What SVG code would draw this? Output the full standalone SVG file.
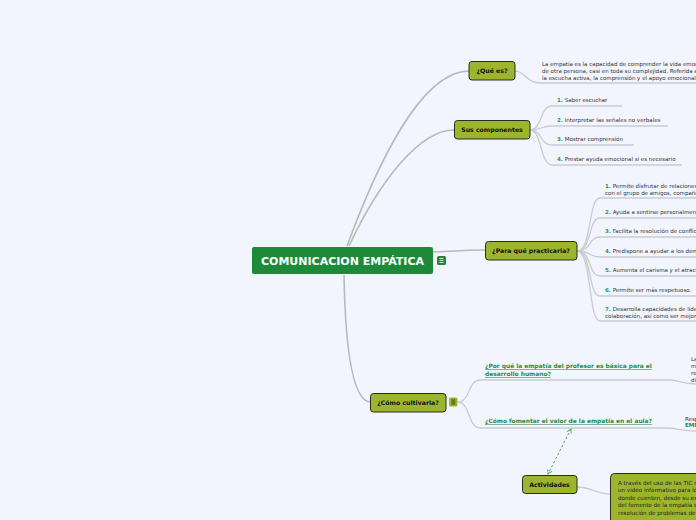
<svg xmlns="http://www.w3.org/2000/svg" width="696" height="520" viewBox="0 0 696 520">
<defs>
<style>
.bg{fill:#f2f5fd}
.ln{fill:none;stroke:#c9cbcf;stroke-width:1.3}
.lnr{fill:none;stroke:#b8b9bc;stroke-width:1.6}
.nd{fill:#9cb52c;stroke:#2b2b22;stroke-width:1}
.nt{font-family:"DejaVu Sans",Verdana,sans-serif;font-size:6.2px;font-weight:bold;fill:#111;text-anchor:middle}
.tx{font-family:"DejaVu Sans",Verdana,sans-serif;font-size:5.5px;fill:#333}
.num{fill:#2a9a4a;font-weight:bold}
.lk{font-family:"DejaVu Sans",Verdana,sans-serif;font-size:5.9px;font-weight:bold;fill:#2a8a4a;text-decoration:underline}
.bx{font-family:"DejaVu Sans",Verdana,sans-serif;font-size:5.6px;fill:#222}
</style>
<marker id="ah" viewBox="0 0 10 10" refX="8" refY="5" markerWidth="6" markerHeight="6" orient="auto-start-reverse">
<path d="M1 1 L8 5 L1 9" fill="none" stroke="#5aaa5a" stroke-width="1.5"/>
</marker>
</defs>
<rect class="bg" width="696" height="520"/>
<g id="connectors">
<path class="lnr" d="M347 246 C375 170 420 71 469 71"/>
<path class="lnr" d="M349 246 C380 180 420 130 454 130"/>
<path class="lnr" d="M433 252 C455 251 470 250 485 250"/>
<path class="lnr" d="M344 275 C345 330 350 400 370 402"/>
<path class="ln" d="M515 71 C525 71 527 83 540 83 L696 83"/>
<path class="ln" d="M530 130 C542 130 540 106 552 106 L622 106"/>
<path class="ln" d="M530 130 C542 130 540 126 552 126 L668 126"/>
<path class="ln" d="M530 130 C542 130 540 145 552 145 L634 145"/>
<path class="ln" d="M530 130 C542 130 540 165 552 165 L682 165"/>
<path class="ln" d="M577 251 C592 251 588 198 600 198 L696 198"/>
<path class="ln" d="M577 251 C592 251 588 218 600 218 L696 218"/>
<path class="ln" d="M577 251 C592 251 588 237 600 237 L696 237"/>
<path class="ln" d="M577 251 C592 251 588 257 600 257 L696 257"/>
<path class="ln" d="M577 251 C592 251 588 276 600 276 L696 276"/>
<path class="ln" d="M577 251 C592 251 588 296 600 296 L696 296"/>
<path class="ln" d="M577 251 C592 251 588 321 600 321 L696 321"/>
<path class="ln" d="M458 402 C470 402 468 380 480 380 L670 380 C680 380 680 384 696 384"/>
<path class="ln" d="M458 402 C470 402 468 428 480 428 L666 428 C678 428 680 431 696 431"/>
<path class="ln" d="M577 487 C592 487 596 494 610 494"/>
<path d="M571 429 L548 474" fill="none" stroke="#5aaa5a" stroke-width="1" stroke-dasharray="2.5,2" marker-start="url(#ah)" marker-end="url(#ah)"/>
</g>
<g id="root">
<rect x="252" y="247" width="181" height="27" rx="2" fill="#1c8a38"/>
<text x="342.5" y="264.8" font-family="DejaVu Sans,Verdana,sans-serif" font-size="11" font-weight="bold" fill="#fff" text-anchor="middle">COMUNICACION EMPÁTICA</text>
<rect x="437" y="256" width="9" height="9" rx="1.5" fill="#1c8a38"/>
<path d="M439.5 258.5h4M439.5 260.5h4M439.5 262.5h4" stroke="#fff" stroke-width="0.8"/>
</g>
<g id="que-es">
<rect class="nd" x="469" y="61.5" width="46" height="18.5" rx="3"/>
<text class="nt" x="492" y="73">¿Qué es?</text>
<text class="tx" x="542" y="66">La empatía es la capacidad de comprender la vida emocional</text>
<text class="tx" x="542" y="73">de otra persona, casi en toda su complejidad. Referida a</text>
<text class="tx" x="542" y="80">la escucha activa, la comprensión y el apoyo emocional.</text>
</g>
<g id="componentes">
<rect class="nd" x="454.5" y="120.5" width="75.5" height="18.5" rx="3"/>
<text class="nt" x="492" y="132">Sus componentes</text>
<text class="tx" x="557" y="102"><tspan class="num">1.</tspan> Saber escuchar</text>
<text class="tx" x="557" y="122"><tspan class="num">2.</tspan> Interpretar las señales no verbales</text>
<text class="tx" x="557" y="141"><tspan class="num">3.</tspan> Mostrar comprensión</text>
<text class="tx" x="557" y="161"><tspan class="num">4.</tspan> Prestar ayuda emocional si es necesario</text>
</g>
<g id="para-que">
<rect class="nd" x="485.5" y="241.5" width="91.5" height="18.5" rx="3"/>
<text class="nt" x="531" y="253">¿Para qué practicarla?</text>
<text class="tx" x="605" y="188"><tspan class="num">1.</tspan> Permite disfrutar de relaciones más satisfactorias</text>
<text class="tx" x="605" y="195">con el grupo de amigos, compañeros y familia.</text>
<text class="tx" x="605" y="214"><tspan class="num">2.</tspan> Ayuda a sentirse personalmente bien.</text>
<text class="tx" x="605" y="233"><tspan class="num">3.</tspan> Facilita la resolución de conflictos.</text>
<text class="tx" x="605" y="253"><tspan class="num">4.</tspan> Predispone a ayudar a los demás.</text>
<text class="tx" x="605" y="272"><tspan class="num">5.</tspan> Aumenta el carisma y el atractivo.</text>
<text class="tx" x="605" y="292"><tspan class="num">6.</tspan> Permite ser más respetuoso.</text>
<text class="tx" x="605" y="311"><tspan class="num">7.</tspan> Desarrolla capacidades de liderazgo, negociación y</text>
<text class="tx" x="605" y="318">colaboración, así como ser mejor valorado.</text>
</g>
<g id="como-cultivarla">
<rect class="nd" x="370.5" y="393.5" width="75.5" height="18.5" rx="3"/>
<text class="nt" x="408" y="405">¿Cómo cultivarla?</text>
<rect x="449" y="397.5" width="8.5" height="9" rx="1.5" fill="#9cb52c"/>
<path d="M451.3 400h4M451.3 402h4M451.3 404h4" stroke="#222" stroke-width="0.8"/>
</g>
<g id="por-que">
<text class="lk" x="485" y="368">¿Por qué la empatía del profesor es básica para el</text>
<text class="lk" x="485" y="376">desarrollo humano?</text>
<text class="tx" x="691" y="361">La</text>
<text class="tx" x="691" y="368">m</text>
<text class="tx" x="691" y="375">re</text>
<text class="tx" x="691" y="382">di</text>
</g>
<g id="como-fomentar">
<text class="lk" x="485" y="423">¿Cómo fomentar el valor de la empatía en el aula?</text>
<text class="tx" x="685" y="421">Respuesta</text>
<text class="tx" x="685" y="427" style="fill:#2a8a4a;font-weight:bold">EMPATÍA</text>
</g>
<g id="actividades">
<rect class="nd" x="522.5" y="475.5" width="54.5" height="18" rx="3"/>
<text class="nt" x="549.5" y="486.5">Actividades</text>
</g>
<g id="actividad-texto">
<rect class="nd" x="610.5" y="473.5" width="100" height="60" rx="4"/>
<text class="bx" x="618" y="485">A través del uso de las TIC realizar</text>
<text class="bx" x="618" y="492">un video informativo para los alumnos</text>
<text class="bx" x="618" y="499.5">donde cuenten, desde su experiencia,</text>
<text class="bx" x="618" y="507">del fomento de la empatía en la</text>
<text class="bx" x="618" y="514.5">resolución de problemas de convivencia.</text>
</g>
</svg>
